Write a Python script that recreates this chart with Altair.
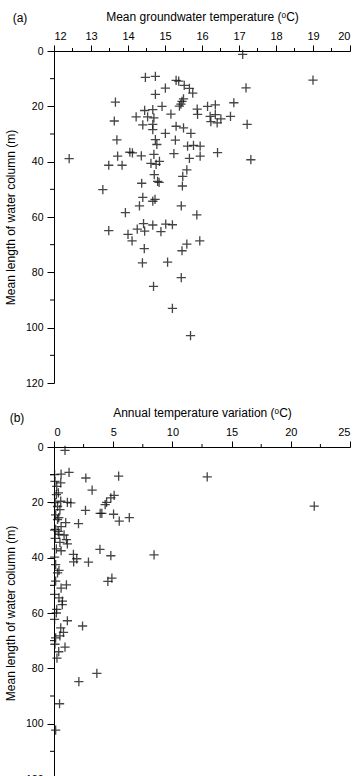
import altair as alt
import pandas as pd

# (a) mean groundwater temperature (degC) vs mean length of water column (m)
temp_mean = [
    17.10, 19.00, 14.47, 14.74, 15.30, 15.37, 15.01, 15.52, 15.66, 15.75,
    17.19, 14.74, 15.50, 15.46, 13.66, 15.39, 15.43, 14.92, 15.87, 16.15,
    16.36, 16.86, 14.45, 14.67, 15.16, 15.88, 14.22, 14.53, 14.70, 16.22,
    16.36, 16.51, 16.77, 13.63, 14.40, 14.67, 16.24, 16.41, 17.22, 15.30,
    15.50, 14.67, 15.70, 15.01, 13.70, 14.74, 15.28, 14.78, 15.61, 15.77,
    15.95, 14.05, 14.12, 14.36, 14.70, 15.24, 15.66, 15.95, 16.42, 12.41,
    17.32, 13.72, 13.48, 13.84, 14.62, 14.85, 14.76, 14.71, 15.59, 15.48,
    14.37, 14.84, 14.80, 15.47, 13.32, 14.40, 14.73, 14.67, 14.31, 15.44,
    13.93, 15.86, 14.42, 14.67, 15.02, 15.20, 14.89, 13.48, 14.25, 14.45,
    14.00, 14.11, 15.94, 15.59, 14.44, 15.46, 14.39, 15.07, 15.44, 14.69,
    15.20, 15.69,
]
depth_a = [
    1.2, 10.5, 9.5, 9.2, 10.6, 10.9, 13.4, 12.4, 13.5, 15.2,
    13.3, 15.7, 17.3, 18.2, 18.5, 19.9, 19.2, 20.0, 21.0, 20.0,
    19.5, 18.7, 21.5, 21.2, 22.8, 22.9, 23.8, 23.8, 24.2, 23.6,
    23.0, 24.5, 23.6, 25.3, 26.7, 26.5, 25.5, 26.0, 26.5, 27.2,
    27.8, 28.4, 29.8, 29.8, 32.1, 32.0, 32.2, 33.8, 34.4, 34.1,
    34.4, 36.6, 36.8, 37.9, 37.4, 37.1, 38.8, 38.0, 36.7, 38.9,
    39.3, 38.0, 41.3, 41.3, 40.6, 39.9, 41.0, 44.7, 43.0, 45.3,
    47.8, 47.5, 47.1, 48.8, 50.1, 52.9, 53.6, 54.3, 56.0, 56.0,
    58.4, 59.2, 62.4, 62.9, 62.6, 62.8, 65.3, 64.9, 64.4, 65.1,
    66.3, 68.6, 68.6, 69.8, 71.4, 72.2, 76.6, 76.3, 81.9, 85.1,
    93.0, 102.9,
]

# (b) annual temperature variation (degC) vs mean length of water column (m)
temp_var = [
    0.93, 0.60, 1.27, 2.69, 5.46, 12.94, 0.08, 0.57, 0.23, 3.22,
    0.37, 5.08, 4.80, 4.44, 4.32, 21.98, 0.10, 0.57, 1.13, 1.42,
    0.30, 2.66, 3.90, 4.04, 5.03, 5.51, 6.36, 0.99, 2.07, 0.14,
    0.40, 0.14, 0.42, 0.85, 1.05, 1.13, 0.20, 0.60, 3.88, 4.80,
    8.45, 1.64, 0.05, 1.92, 1.66, 2.91, 0.14, 0.42, 1.05, 4.55,
    4.89, 0.14, 0.05, 0.42, 0.71, 0.23, 0.05, 1.13, 2.41, 0.57,
    0.14, 0.50, 0.08, 0.93, 0.25, 3.62, 2.10, 0.47, 0.14, 0.05,
    0.20, 0.50, 0.30, 0.60, 0.10, 0.50, 0.30, 0.60, 0.20, 0.80,
    0.40, 0.70, 0.35,
]
depth_b = [
    1.2, 9.8, 9.2, 11.2, 10.5, 10.8, 12.4, 13.0, 14.2, 15.6,
    16.6, 17.5, 18.4, 20.0, 20.8, 21.4, 20.1, 19.6, 20.0, 20.2,
    21.5, 22.9, 24.0, 24.0, 24.3, 26.8, 25.5, 27.3, 27.7, 24.5,
    25.5, 29.8, 31.6, 31.8, 33.5, 35.0, 36.8, 37.5, 37.0, 39.3,
    39.0, 38.8, 39.8, 40.4, 41.5, 41.6, 42.5, 44.6, 49.8, 48.6,
    47.4, 48.5, 53.3, 54.5, 55.7, 58.7, 62.3, 62.8, 64.7, 65.4,
    69.0, 68.3, 71.3, 72.3, 76.3, 81.8, 84.8, 92.8, 102.3, 10.0,
    17.2, 22.6, 26.2, 28.8, 33.0, 34.5, 45.5, 51.0, 60.0, 67.0,
    74.0, 57.0, 30.5,
]

depth_ticks = [0, 20, 40, 60, 80, 100, 120]
depth_minor = [10, 30, 50, 70, 90, 110]
temp_ticks = [12, 13, 14, 15, 16, 17, 18, 19, 20]
temp_minor = [12.5, 13.5, 14.5, 15.5, 16.5, 17.5, 18.5, 19.5]
var_ticks = [0, 5, 10, 15, 20, 25]
var_minor = [2.5, 7.5, 12.5, 17.5, 22.5]

FONT = "Liberation Sans"
PLUS = "M-1,0L1,0M0,-1L0,1"
W, H = 296, 332
DEPTH_TITLE = "Mean length of water column (m)"


def panel(xs, ys, x_domain, x_ticks, x_minor, x_title, tag):
    pts = pd.DataFrame({"x": xs, "depth": ys})
    x_axis = alt.Axis(
        orient="top", values=x_ticks, tickSize=6, labelPadding=4,
        labelFontSize=11, labelFont=FONT, labelColor="black",
        titleFont=FONT, titleFontSize=12, titleFontWeight="normal",
        titleColor="black", titlePadding=7,
        domainColor="black", tickColor="black", grid=False,
    )
    y_axis = alt.Axis(
        values=depth_ticks, tickSize=7, labelPadding=4,
        labelFontSize=10.5, labelFont=FONT, labelColor="black",
        titleFont=FONT, titleFontSize=12, titleFontWeight="normal",
        titleColor="black", titlePadding=8,
        domainColor="black", tickColor="black", grid=False,
    )
    x_scale = alt.Scale(domain=x_domain, nice=False, zero=False)
    y_scale = alt.Scale(domain=[0, 120], reverse=True, nice=False)

    x_enc = alt.X("x:Q", scale=x_scale, axis=x_axis, title=x_title)
    y_enc = alt.Y("depth:Q", scale=y_scale, axis=y_axis, title=DEPTH_TITLE)

    points = alt.Chart(pts).mark_point(
        shape=PLUS, size=85, filled=False, color="#111111",
        strokeWidth=1.3, opacity=0.78,
    ).encode(x=x_enc, y=y_enc)

    # shorter unlabelled ticks between the labelled ones
    x_minor_ticks = alt.Chart(pd.DataFrame({"x": x_minor})).mark_rule(
        color="black", strokeWidth=1
    ).encode(x=x_enc, y=alt.value(0), y2=alt.value(-3))
    y_minor_ticks = alt.Chart(pd.DataFrame({"depth": depth_minor})).mark_rule(
        color="black", strokeWidth=1
    ).encode(y=y_enc, x=alt.value(0), x2=alt.value(-4))

    label = alt.Chart(pd.DataFrame({"tag": [tag]})).mark_text(
        font=FONT, fontSize=12, color="black", align="center", baseline="middle"
    ).encode(
        text="tag:N",
        x=alt.value(-34 if tag == "(a)" else -37),
        y=alt.value(-33 if tag == "(a)" else -29),
    )

    return alt.layer(points, x_minor_ticks, y_minor_ticks, label).properties(
        width=W, height=H
    )


top = panel(temp_mean, depth_a, [12, 20], temp_ticks, temp_minor,
            "Mean groundwater temperature (ᵒC)", "(a)")
bottom = panel(temp_var, depth_b, [0, 25], var_ticks, var_minor,
               "Annual temperature variation (ᵒC)", "(b)")

chart = alt.vconcat(top, bottom, spacing=17).properties(
    padding={"left": 4, "top": 10, "right": 0, "bottom": 0},
    background="white",
).configure_view(stroke=None)

chart.save("out.html", embed_options={"renderer": "svg", "actions": False})
